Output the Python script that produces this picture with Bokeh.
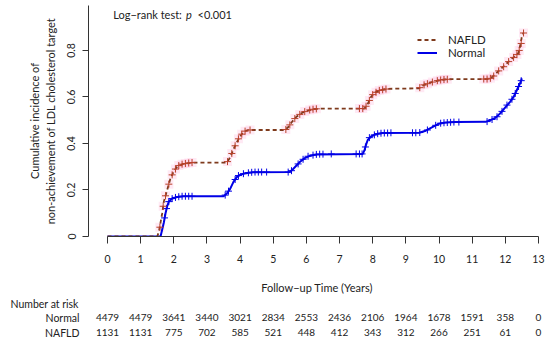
import numpy as np
from bokeh.plotting import figure
from bokeh.models import Range1d, FixedTicker, Legend, LegendItem, Label, ColumnDataSource
from bokeh.embed import file_html
from bokeh.resources import INLINE
from bokeh.core.properties import value

FONT = "Lato"

# ---------------- data ----------------
groups = ["NAFLD", "Normal"]

normal_t = [0, 1.6, 1.65, 1.7, 1.75, 1.8, 1.85, 1.95, 2.1, 2.3, 3.5, 3.6, 3.7, 3.8, 3.9, 4.0, 4.15, 4.4,
            5.5, 5.6, 5.7, 5.8, 5.95, 6.1, 6.3, 7.7, 7.75, 7.8, 7.85, 7.95, 8.1, 8.3, 9.4, 9.6, 9.8,
            10.0, 10.2, 10.5, 11.4, 11.55, 11.7, 11.85, 12.0, 12.15, 12.25, 12.35, 12.45, 12.5]
normal_v = [0, 0, 0.03, 0.06, 0.10, 0.13, 0.15, 0.163, 0.17, 0.173, 0.173, 0.185, 0.205, 0.235, 0.255,
            0.265, 0.272, 0.276, 0.277, 0.29, 0.305, 0.32, 0.337, 0.347, 0.353, 0.355, 0.37, 0.395,
            0.415, 0.43, 0.44, 0.445, 0.446, 0.455, 0.47, 0.485, 0.49, 0.492, 0.493, 0.50, 0.51, 0.53,
            0.555, 0.58, 0.60, 0.63, 0.66, 0.68]

nafld_t = [0, 1.5, 1.55, 1.6, 1.65, 1.7, 1.8, 1.9, 2.0, 2.1, 2.3, 2.6, 3.6, 3.7, 3.8, 3.9, 4.0, 4.1, 4.25,
           5.35, 5.45, 5.55, 5.7, 5.85, 6.0, 6.2, 6.4, 7.75, 7.85, 7.95, 8.05, 8.2, 8.45, 9.4, 9.5, 9.7,
           9.9, 10.1, 10.4, 11.5, 11.6, 11.75, 11.9, 12.05, 12.2, 12.3, 12.4, 12.45, 12.5, 12.55]
nafld_v = [0, 0, 0.02, 0.06, 0.10, 0.15, 0.20, 0.25, 0.28, 0.30, 0.313, 0.318, 0.318, 0.34, 0.375, 0.405,
           0.43, 0.45, 0.458, 0.458, 0.47, 0.49, 0.515, 0.53, 0.54, 0.547, 0.55, 0.55, 0.57, 0.60, 0.617,
           0.628, 0.635, 0.637, 0.648, 0.66, 0.668, 0.674, 0.677, 0.677, 0.685, 0.705, 0.725, 0.745,
           0.765, 0.775, 0.79, 0.82, 0.86, 0.875]

normal_cens_t = [1.72, 1.78, 1.85, 1.95, 2.05, 2.15, 2.25, 2.35, 2.45, 2.55, 3.55, 3.65, 3.85, 3.95, 4.1,
                 4.25, 4.35, 4.45, 4.55, 4.65, 4.8, 5.45, 5.55, 5.75, 5.9, 6.05, 6.2, 6.3, 6.4, 6.5, 6.75,
                 7.5, 7.6, 7.68, 7.78, 7.9, 8.05, 8.15, 8.25, 8.35, 8.45, 8.55, 9.2, 9.3, 9.42, 9.65, 9.9,
                 10.05, 10.15, 10.25, 10.35, 10.45, 10.6, 11.45, 11.6, 11.75, 11.9, 12.05, 12.2, 12.3,
                 12.4, 12.48]
normal_cens_v = [0.08, 0.12, 0.15, 0.163, 0.168, 0.171, 0.173, 0.173, 0.173, 0.173, 0.178, 0.195, 0.245,
                 0.262, 0.27, 0.274, 0.276, 0.277, 0.277, 0.277, 0.277, 0.277, 0.283, 0.312, 0.332, 0.345,
                 0.35, 0.353, 0.354, 0.354, 0.355, 0.355, 0.355, 0.355, 0.385, 0.425, 0.437, 0.442, 0.444,
                 0.445, 0.445, 0.446, 0.446, 0.446, 0.447, 0.458, 0.478, 0.487, 0.489, 0.49, 0.491, 0.492,
                 0.492, 0.494, 0.503, 0.515, 0.538, 0.565, 0.59, 0.615, 0.645, 0.67]

nafld_cens_t = [1.58, 1.68, 1.75, 1.85, 1.95, 2.05, 2.15, 2.25, 2.35, 2.45, 2.55, 3.62, 3.75, 3.85, 3.95,
                4.05, 4.15, 4.3, 5.38, 5.5, 5.65, 5.8, 5.95, 6.1, 6.2, 6.3, 7.6, 7.7, 7.8, 7.9, 8.0, 8.1,
                8.2, 8.3, 8.4, 9.42, 9.55, 9.65, 9.8, 9.95, 10.05, 10.15, 10.25, 11.35, 11.45, 11.55,
                11.65, 11.8, 11.95, 12.1, 12.25, 12.35, 12.42, 12.48, 12.55]
nafld_cens_v = [0.04, 0.13, 0.175, 0.225, 0.265, 0.29, 0.305, 0.311, 0.314, 0.316, 0.318, 0.322, 0.357,
                0.39, 0.42, 0.44, 0.453, 0.458, 0.46, 0.48, 0.507, 0.525, 0.537, 0.544, 0.547, 0.549,
                0.55, 0.55, 0.56, 0.585, 0.61, 0.62, 0.628, 0.631, 0.634, 0.64, 0.652, 0.657, 0.664,
                0.67, 0.673, 0.675, 0.676, 0.677, 0.677, 0.68, 0.69, 0.712, 0.73, 0.752, 0.77, 0.782,
                0.80, 0.83, 0.875]

x_ticks = list(range(14))
y_ticks = [0, 0.2, 0.4, 0.6, 0.8]
y_tick_labels = ["0", "0.2", "0.4", "0.6", "0.8"]

risk_times = list(range(14))
risk_normal = [4479, 4479, 3641, 3440, 3021, 2834, 2553, 2436, 2106, 1964, 1678, 1591, 358, 0]
risk_nafld = [1131, 1131, 775, 702, 585, 521, 448, 412, 343, 312, 266, 251, 61, 0]

# ---------------- layout constants (page pixels) ----------------
PX = 33.15          # pixels per year
REF_X0 = 107.0      # page x of t = 0
REF_Y0 = 239.0      # page y of value 0
PY = 235.6          # pixels per unit of incidence
FRAME_L, FRAME_R, FRAME_T = 88, 545, 5
MAIN_H = 296
W = 550

def dx(ref_x):
    return (ref_x - REF_X0) / PX

def dy(ref_y):
    return (REF_Y0 - ref_y) / PY

TXT = "#222222"
BLUE = "#0000e6"
BROWN = "#7e3a1c"
RED = "#b8402a"

# ---------------- main plot ----------------
p = figure(width=W, height=MAIN_H,
           x_range=Range1d(dx(FRAME_L), dx(FRAME_R)),
           y_range=Range1d(0, dy(FRAME_T)),
           output_backend="svg", toolbar_location=None,
           min_border_left=FRAME_L, min_border_right=W - FRAME_R,
           min_border_top=FRAME_T, min_border_bottom=MAIN_H - int(REF_Y0))
p.grid.visible = False
p.outline_line_color = None
p.background_fill_color = "white"
p.border_fill_color = "white"

xa = p.xaxis[0]
xa.ticker = FixedTicker(ticks=x_ticks)
xa.bounds = (0, 13)
xa.major_tick_out = 7
xa.major_tick_in = 0
xa.minor_tick_out = 0
xa.minor_tick_in = 0
xa.major_label_standoff = 11
xa.major_label_text_font = FONT
xa.major_label_text_font_size = "10.5px"
xa.major_label_text_color = TXT
xa.axis_label = "Follow\u2212up Time (Years)"
xa.axis_label_standoff = 15
xa.axis_label_text_font = FONT
xa.axis_label_text_font_size = "11px"
xa.axis_label_text_font_style = "normal"
xa.axis_label_text_color = TXT
xa.axis_line_color = "#333333"
xa.major_tick_line_color = "#333333"

ya = p.yaxis[0]
ya.ticker = FixedTicker(ticks=y_ticks)
ya.major_label_overrides = dict(zip(y_ticks, y_tick_labels))
ya.major_label_orientation = "vertical"
ya.major_tick_out = 6
ya.major_tick_in = 0
ya.minor_tick_out = 0
ya.minor_tick_in = 0
ya.major_label_standoff = 7
ya.major_label_text_font = FONT
ya.major_label_text_font_size = "10.5px"
ya.major_label_text_color = TXT
ya.axis_label = "Cumulative incidence of\nnon-achievement of LDL cholesterol target"
ya.axis_label_standoff = 8
ya.axis_label_text_font = FONT
ya.axis_label_text_font_size = "11px"
ya.axis_label_text_font_style = "normal"
ya.axis_label_text_color = TXT
ya.axis_line_color = "#333333"
ya.major_tick_line_color = "#333333"

# pink halo around NAFLD censoring marks
p.scatter(nafld_cens_t, nafld_cens_v, marker="square", size=9, color="#ffbfe0",
          alpha=0.35, line_alpha=0)

r_normal = p.line(normal_t, normal_v, line_color=BLUE, line_width=2)
r_nafld = p.line(nafld_t, nafld_v, line_color=BROWN, line_width=1.8, line_dash="4 3")

p.scatter(normal_cens_t, normal_cens_v, marker="cross", size=7, line_color=BLUE, line_width=1)
p.scatter(nafld_cens_t, nafld_cens_v, marker="cross", size=7, line_color=RED, line_width=1)

legend = Legend(items=[LegendItem(label=groups[0], renderers=[r_nafld]),
                       LegendItem(label=groups[1], renderers=[r_normal])],
                location=(417 - FRAME_L, REF_Y0 - 61.5), orientation="vertical",
                padding=0, margin=0, spacing=0,
                glyph_width=20, glyph_height=13, label_height=13, label_standoff=11,
                label_text_font=FONT, label_text_font_size="11.5px", label_text_color=TXT,
                border_line_alpha=0, background_fill_alpha=0)
p.add_layout(legend)

for txt, rx, style in [("Log\u2212rank test:", 112.7, "normal"), ("p", 185.5, "italic"),
                       ("<0.001", 197.0, "normal")]:
    p.add_layout(Label(x=dx(rx), y=dy(14), text=txt, text_align="left", text_baseline="middle",
                       text_font=FONT, text_font_size="11px", text_font_style=style,
                       text_color=TXT))

# ---------------- risk table (separate root so its frame spans the full width) ----------------
RISK_H = 341 - MAIN_H
r = figure(width=W, height=RISK_H,
           x_range=Range1d(dx(0), dx(W)),
           y_range=Range1d(0, RISK_H),
           output_backend="svg", toolbar_location=None,
           x_axis_location=None, y_axis_location=None, min_border=0)
r.grid.visible = False
r.outline_line_color = None

def ry(ref_y):
    return 341 - ref_y

src = ColumnDataSource(dict(
    x=risk_times + risk_times,
    y=[ry(317)] * len(risk_times) + [ry(332)] * len(risk_times),
    t=[str(v) for v in risk_normal] + [str(v) for v in risk_nafld]))
r.text(x="x", y="y", text="t", source=src, text_align="center", text_baseline="middle",
       text_font=value(FONT), text_font_size="10px", text_color=TXT)

lab_src = ColumnDataSource(dict(x=[dx(79)] * 2, y=[ry(317), ry(332)],
                                t=[groups[1], groups[0]]))
r.text(x="x", y="y", text="t", source=lab_src, text_align="right", text_baseline="middle",
       text_font=value(FONT), text_font_size="10.5px", text_color=TXT)
r.text(x=[dx(10)], y=[ry(303)], text=["Number at risk"], text_align="left",
       text_baseline="middle", text_font=value(FONT), text_font_size="10.5px", text_color=TXT)

open("out.html", "w").write(file_html([p, r], INLINE))
